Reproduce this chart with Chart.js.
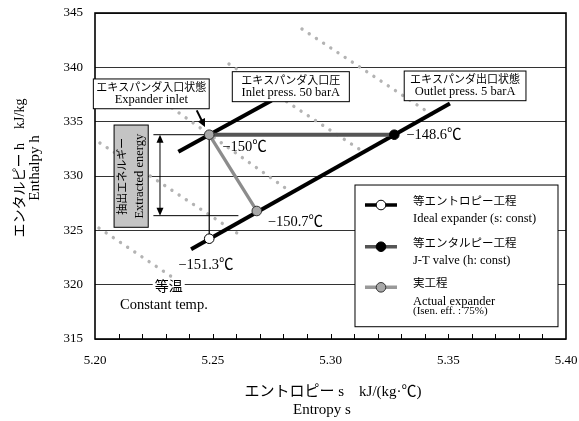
<!DOCTYPE html>
<html>
<head>
<meta charset="utf-8">
<script src="https://cdn.jsdelivr.net/npm/chart.js@4.4.1/dist/chart.umd.min.js"></script>
<style>
  html, body { margin: 0; padding: 0; background: #fff; }
  #wrap { width: 579px; height: 421px; }
</style>
</head>
<body>
<div id="wrap"><canvas id="phChart" width="579" height="421"></canvas></div>
<script>
const FONT = "'Liberation Serif', 'Noto Sans CJK JP', serif";

// axis ticks
const xTickLabels = ["5.20", "5.25", "5.30", "5.35", "5.40"];
const yTickValues = [315, 320, 325, 330, 335, 340, 345];

// process lines, entropy s / enthalpy h
const isobar50S = [5.2354, 5.275];
const isobar50H = [332.24, 336.95];
const isobar5S = [5.2408, 5.3507];
const isobar5H = [323.25, 336.68];
const jtS = [5.2485, 5.3271];
const jtH = [333.8, 333.8];
const actualS = [5.2485, 5.2687];
const actualH = [333.8, 326.78];
const idealS = [5.2485, 5.2485];
const idealH = [333.8, 324.23];

// state points
const inletPt = [5.2485, 333.8];
const idealOutPt = [5.2485, 324.23];
const actualOutPt = [5.2687, 326.78];
const jtOutPt = [5.3271, 333.8];

// isotherms (dotted), start / end
const isoS = [
  [5.2017, 5.2327],
  [5.2021, 5.2603],
  [5.2327, 5.2862],
  [5.2569, 5.3147],
  [5.2879, 5.3452],
];
const isoH = [
  [325.21, 320.71],
  [333.04, 324.75],
  [336.26, 328.07],
  [340.31, 332.12],
  [343.53, 335.34],
];

// extracted energy guide lines
const extTopS = [5.2248, 5.2485];
const extTopH = [333.8, 333.8];
const extBotS = [5.2248, 5.2609];
const extBotH = [326.35, 326.35];

const toXY = (s, h) => s.map((v, i) => ({ x: v, y: h[i] }));

function lineSet(s, h, color, width, order, extra) {
  return Object.assign({
    data: toXY(s, h),
    showLine: true,
    borderColor: color,
    borderWidth: width,
    pointRadius: 0,
    order: order,
  }, extra || {});
}

function pointSet(pt, fill, border, order) {
  return {
    data: [{ x: pt[0], y: pt[1] }],
    pointRadius: 4.8,
    pointBackgroundColor: fill,
    pointBorderColor: border,
    pointBorderWidth: 1,
    order: order,
  };
}

const datasets = [];
isoS.forEach((s, i) => {
  datasets.push(lineSet(s, isoH[i], "#b3b3b3", 3.4, 20, {
    borderDash: [0.01, 8.6],
    borderCapStyle: "round",
  }));
});
datasets.push(lineSet(extTopS, extTopH, "#000", 1, 12));
datasets.push(lineSet(extBotS, extBotH, "#000", 1, 12));
datasets.push(lineSet(idealS, idealH, "#000", 1.2, 11));
datasets.push(lineSet(isobar50S, isobar50H, "#000", 4, 8));
datasets.push(lineSet(isobar5S, isobar5H, "#000", 4, 8));
datasets.push(lineSet(jtS, jtH, "#555", 4, 6));
datasets.push(lineSet(actualS, actualH, "#8c8c8c", 3.3, 5));
datasets.push(pointSet(inletPt, "#a8a8a8", "#333", 1));
datasets.push(pointSet(idealOutPt, "#fff", "#000", 1));
datasets.push(pointSet(actualOutPt, "#a8a8a8", "#333", 1));
datasets.push(pointSet(jtOutPt, "#000", "#000", 1));

// annotation boxes, in data coordinates
const labelBoxes = [
  { s0: 5.1993, s1: 5.2485, h0: 338.93, h1: 336.19, lines: ["エキスパンダ入口状態", "Expander inlet"] },
  { s0: 5.2583, s1: 5.3080, h0: 339.6, h1: 336.84, lines: ["エキスパンダ入口圧", "Inlet press. 50 barA"] },
  { s0: 5.3313, s1: 5.3830, h0: 339.66, h1: 336.93, lines: ["エキスパンダ出口状態", "Outlet press. 5 barA"] },
];

const tempLabels = [
  { pt: inletPt, text: "−150℃", dx: 13, dy: 12 },
  { pt: jtOutPt, text: "−148.6℃", dx: 12, dy: 0 },
  { pt: actualOutPt, text: "−150.7℃", dx: 11, dy: 11 },
  { pt: idealOutPt, text: "−151.3℃", dx: -31, dy: 26 },
];

const legendItems = [
  { line: "#000", fill: "#fff", border: "#000", dy: 20, texts: ["等エントロピー工程", "Ideal expander (s: const)"] },
  { line: "#555", fill: "#000", border: "#000", dy: 61.7, texts: ["等エンタルピー工程", "J-T valve (h: const)"] },
  { line: "#999", fill: "#a8a8a8", border: "#333", dy: 102.3, texts: ["実工程", "Actual expander", "(Isen. eff. : 75%)"] },
];

function arrowHead(ctx, x0, y0, x1, y1, len, half) {
  const a = Math.atan2(y1 - y0, x1 - x0);
  ctx.beginPath();
  ctx.moveTo(x1, y1);
  ctx.lineTo(x1 - len * Math.cos(a) + half * Math.sin(a), y1 - len * Math.sin(a) - half * Math.cos(a));
  ctx.lineTo(x1 - len * Math.cos(a) - half * Math.sin(a), y1 - len * Math.sin(a) + half * Math.cos(a));
  ctx.closePath();
  ctx.fill();
}

const annotations = {
  id: "annotations",
  afterDatasetsDraw(chart) {
    const ctx = chart.ctx;
    const xs = chart.scales.x;
    const ys = chart.scales.y;
    const px = (v) => xs.getPixelForValue(v);
    const py = (v) => ys.getPixelForValue(v);
    const area = chart.chartArea;
    ctx.save();

    // inward minor ticks on the bottom axis
    ctx.strokeStyle = "#000";
    ctx.lineWidth = 1;
    xs.ticks.forEach((t, i) => {
      if (i === 0 || i === xs.ticks.length - 1) return;
      const x = Math.round(px(t.value)) + 0.5;
      ctx.beginPath();
      ctx.moveTo(x, area.bottom);
      ctx.lineTo(x, area.bottom - 5);
      ctx.stroke();
    });

    // plot frame
    ctx.lineWidth = 1.6;
    ctx.strokeRect(area.left, area.top, area.right - area.left, area.bottom - area.top);

    // extracted energy double arrow
    const ax = px(5.2276);
    const ay0 = py(extTopH[0]);
    const ay1 = py(extBotH[0]);
    ctx.fillStyle = "#000";
    ctx.lineWidth = 1;
    ctx.beginPath();
    ctx.moveTo(ax, ay0 + 4);
    ctx.lineTo(ax, ay1 - 4);
    ctx.stroke();
    arrowHead(ctx, ax, ay1, ax, ay0, 8, 3.5);
    arrowHead(ctx, ax, ay0, ax, ay1, 8, 3.5);

    // extracted energy box
    const bx0 = px(5.2081), bx1 = px(5.2226), by0 = py(334.69), by1 = py(325.28);
    ctx.fillStyle = "#c4c4c4";
    ctx.fillRect(bx0, by0, bx1 - bx0, by1 - by0);
    ctx.strokeStyle = "#000";
    ctx.lineWidth = 1;
    ctx.strokeRect(bx0, by0, bx1 - bx0, by1 - by0);
    ctx.save();
    ctx.translate((bx0 + bx1) / 2, (by0 + by1) / 2);
    ctx.rotate(-Math.PI / 2);
    ctx.fillStyle = "#000";
    ctx.textAlign = "center";
    ctx.textBaseline = "middle";
    ctx.font = "11px " + FONT;
    ctx.fillText("抽出エネルギー", 0, -8);
    ctx.font = "12.5px " + FONT;
    ctx.fillText("Extracted energy", 0, 8.5);
    ctx.restore();

    // label boxes
    labelBoxes.forEach((b) => {
      const x0 = px(b.s0), x1 = px(b.s1), y0 = py(b.h0), y1 = py(b.h1);
      ctx.fillStyle = "#fff";
      ctx.fillRect(x0, y0, x1 - x0, y1 - y0);
      ctx.strokeStyle = "#000";
      ctx.lineWidth = 1;
      ctx.strokeRect(x0, y0, x1 - x0, y1 - y0);
      ctx.fillStyle = "#000";
      ctx.textAlign = "center";
      ctx.textBaseline = "middle";
      ctx.font = "11px " + FONT;
      ctx.fillText(b.lines[0], (x0 + x1) / 2, y0 + 9);
      ctx.font = "12.5px " + FONT;
      ctx.fillText(b.lines[1], (x0 + x1) / 2, y0 + 21);
    });

    // arrow from inlet box to inlet point
    const s0x = px(5.2432), s0y = py(336.04), s1x = px(5.2467), s1y = py(334.51);
    ctx.strokeStyle = "#000";
    ctx.fillStyle = "#000";
    ctx.lineWidth = 2;
    ctx.beginPath();
    ctx.moveTo(s0x, s0y);
    ctx.lineTo(s1x - (s1x - s0x) * 0.3, s1y - (s1y - s0y) * 0.3);
    ctx.stroke();
    arrowHead(ctx, s0x, s0y, s1x, s1y, 8, 4);

    // temperature labels
    ctx.font = "14.5px " + FONT;
    ctx.textAlign = "left";
    ctx.textBaseline = "middle";
    tempLabels.forEach((t) => {
      ctx.fillText(t.text, px(t.pt[0]) + t.dx, py(t.pt[1]) + t.dy);
    });

    // isotherm note
    const tx = px(5.2313), ty = py(319.77);
    ctx.font = "14px " + FONT;
    ctx.textAlign = "center";
    const tw = ctx.measureText("等温").width;
    ctx.fillStyle = "#fff";
    ctx.fillRect(tx - tw / 2 - 2, ty - 7, tw + 4, 14);
    ctx.fillStyle = "#000";
    ctx.fillText("等温", tx, ty);
    ctx.textAlign = "left";
    ctx.font = "14.5px " + FONT;
    ctx.fillText("Constant temp.", px(5.2106), py(318.1));

    // legend
    const lx = px(5.3104), ly = py(329.17), lx1 = px(5.3966), ly1 = py(316.13);
    ctx.fillStyle = "#fff";
    ctx.fillRect(lx, ly, lx1 - lx, ly1 - ly);
    ctx.strokeStyle = "#000";
    ctx.lineWidth = 1;
    ctx.strokeRect(lx, ly, lx1 - lx, ly1 - ly);
    legendItems.forEach((it) => {
      const cy = ly + it.dy;
      ctx.strokeStyle = it.line;
      ctx.lineWidth = 3.6;
      ctx.beginPath();
      ctx.moveTo(lx + 10, cy);
      ctx.lineTo(lx + 42, cy);
      ctx.stroke();
      ctx.beginPath();
      ctx.arc(lx + 26, cy, 4.8, 0, Math.PI * 2);
      ctx.fillStyle = it.fill;
      ctx.fill();
      ctx.strokeStyle = it.border;
      ctx.lineWidth = 1;
      ctx.stroke();
      ctx.fillStyle = "#000";
      ctx.textAlign = "left";
      ctx.textBaseline = "middle";
      ctx.font = "11.5px " + FONT;
      ctx.fillText(it.texts[0], lx + 58, cy - 3);
      ctx.font = "12.5px " + FONT;
      ctx.fillText(it.texts[1], lx + 58, cy + 14);
      if (it.texts[2]) {
        ctx.font = "11px " + FONT;
        ctx.fillText(it.texts[2], lx + 58, cy + 24);
      }
    });

    // axis titles
    ctx.fillStyle = "#000";
    ctx.textAlign = "center";
    ctx.textBaseline = "middle";
    ctx.font = "15px " + FONT;
    ctx.fillText("エントロピー s　kJ/(kg·℃)", 333, 392);
    ctx.fillText("Entropy s", 322, 410);
    ctx.save();
    ctx.translate(20, 168);
    ctx.rotate(-Math.PI / 2);
    ctx.font = "14px " + FONT;
    ctx.fillText("エンタルピー h　kJ/kg", 0, 0);
    ctx.font = "15px " + FONT;
    ctx.fillText("Enthalpy h", 0, 15);
    ctx.restore();

    ctx.restore();
  },
};

new Chart(document.getElementById("phChart"), {
  type: "scatter",
  data: { datasets: datasets },
  options: {
    responsive: false,
    animation: false,
    layout: { padding: { top: 13, right: 13, left: 0, bottom: 0 } },
    elements: { line: { tension: 0 } },
    plugins: { legend: { display: false }, tooltip: { enabled: false } },
    scales: {
      x: {
        type: "linear",
        min: parseFloat(xTickLabels[0]),
        max: parseFloat(xTickLabels[xTickLabels.length - 1]),
        afterFit: (scale) => {
          scale.height = 82;
          scale.paddingLeft = 0;
          scale.paddingRight = 0;
        },
        border: { display: false },
        grid: { drawOnChartArea: false, drawTicks: false },
        ticks: {
          stepSize: 0.01,
          autoSkip: false,
          maxRotation: 0,
          padding: 14,
          color: "#000",
          font: { family: FONT, size: 13 },
          callback: (v) => xTickLabels.find((l) => Math.abs(parseFloat(l) - v) < 1e-6) || "",
        },
      },
      y: {
        min: yTickValues[0],
        max: yTickValues[yTickValues.length - 1],
        afterFit: (scale) => {
          scale.width = 95;
          scale.paddingTop = 0;
          scale.paddingBottom = 0;
        },
        border: { display: false },
        grid: { color: "#333", lineWidth: 1, drawTicks: false },
        ticks: {
          stepSize: 5,
          padding: 12,
          color: "#000",
          font: { family: FONT, size: 13 },
        },
      },
    },
  },
  plugins: [annotations],
});
</script>
</body>
</html>
